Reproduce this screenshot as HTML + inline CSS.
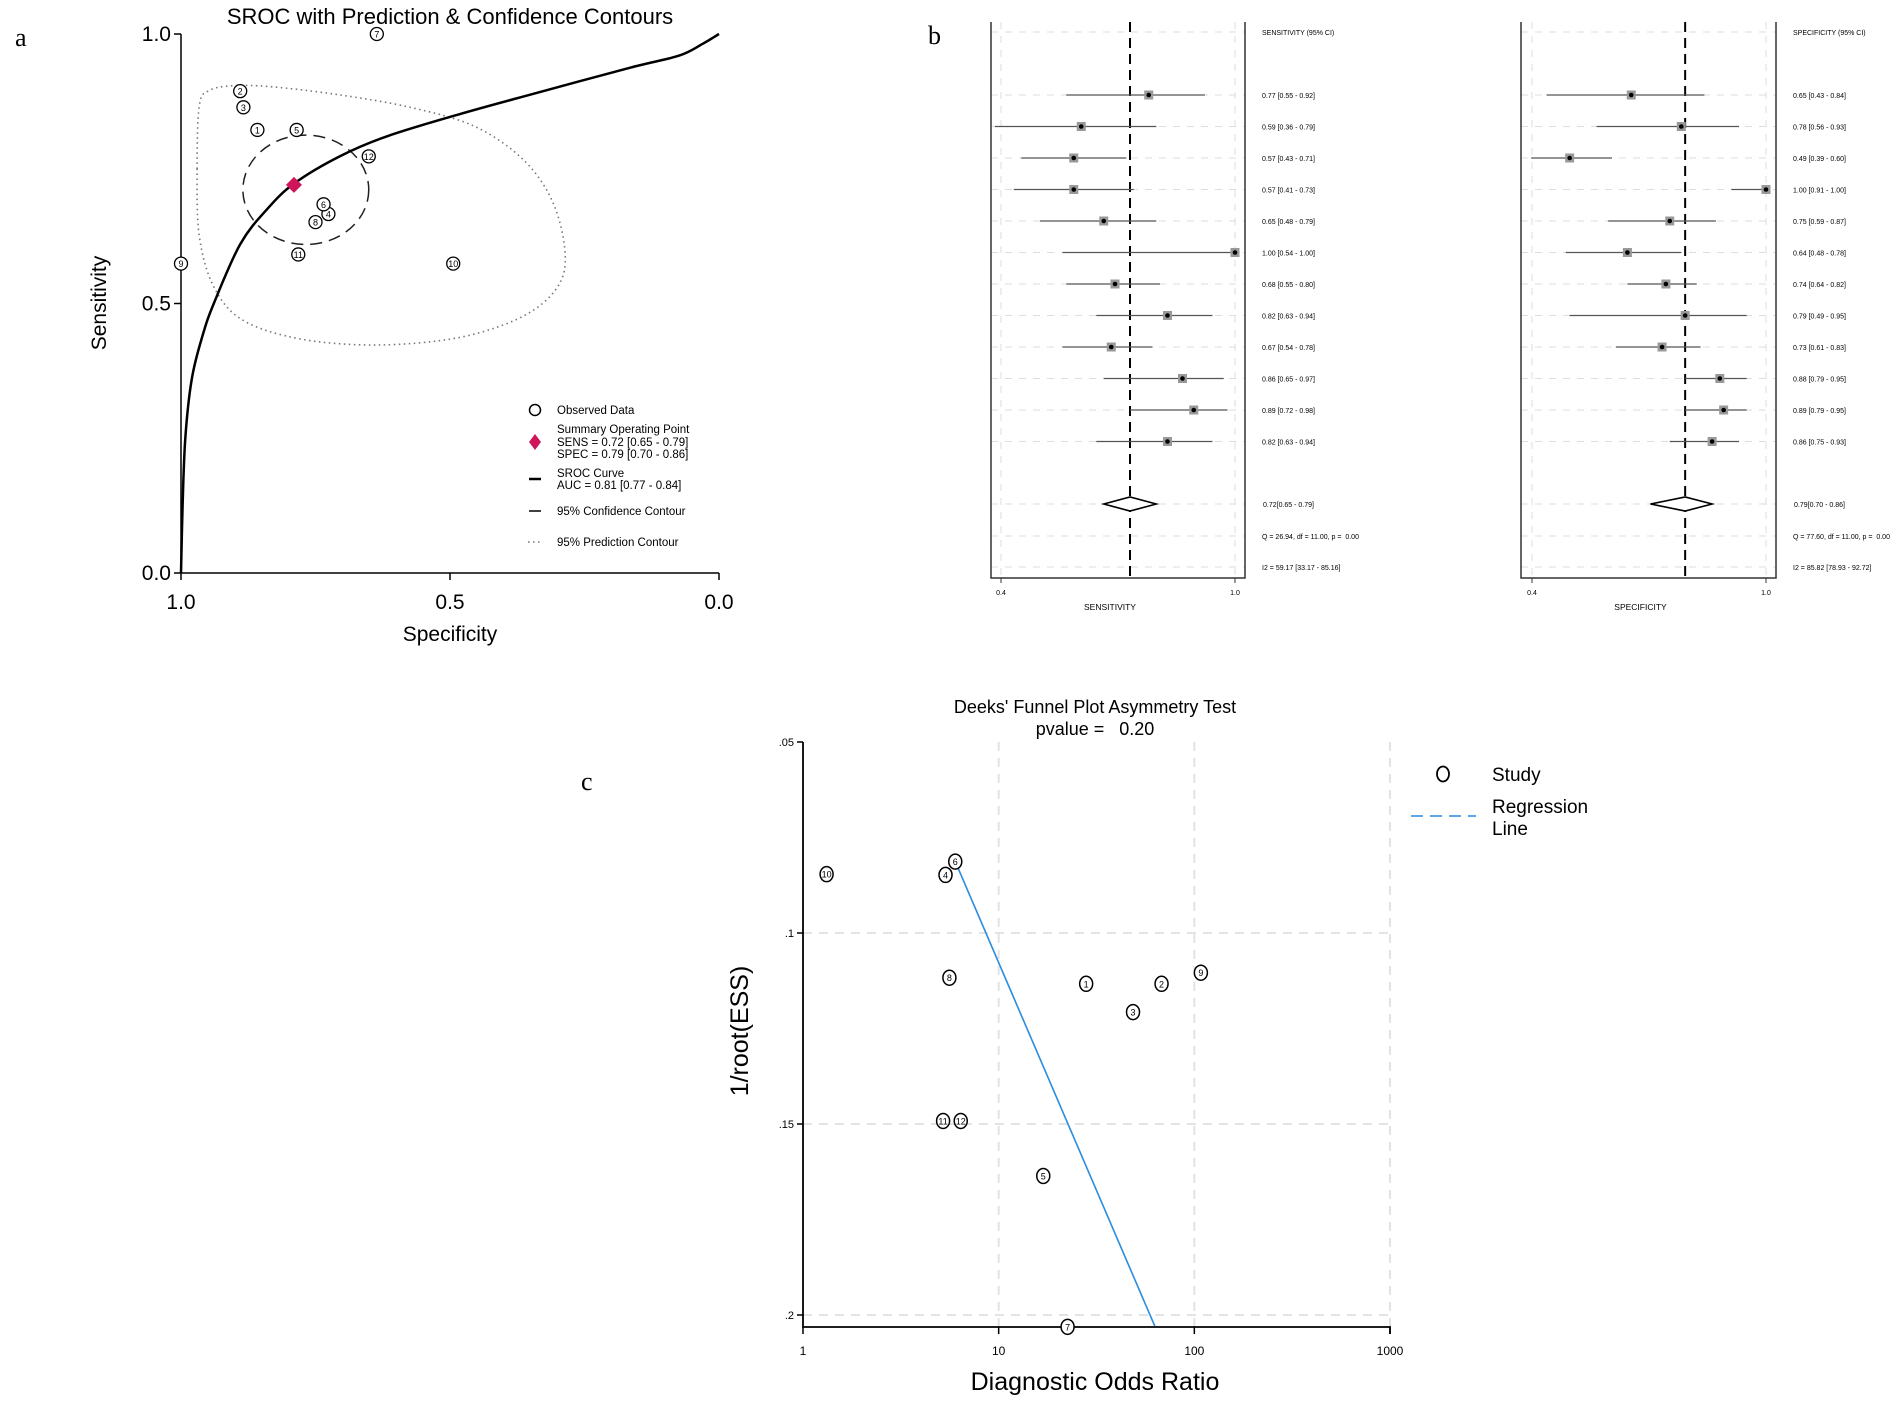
<!DOCTYPE html>
<html><head><meta charset="utf-8">
<style>
html,body{margin:0;padding:0;background:#fff;}
svg{display:block;font-family:"Liberation Sans",sans-serif;}
text{white-space:pre;}
</style></head>
<body>
<svg id="fig" width="1902" height="1403" viewBox="0 0 1902 1403" xmlns="http://www.w3.org/2000/svg">
<rect x="0" y="0" width="1902" height="1403" fill="#fff"/>
<g id="pa"></g>
<g id="pb"></g>
<g id="pc"></g>
</svg>
<script>
// ===== Panel a data =====
const sroStudyIds = ["1","2","3","4","5","6","7","8","9","10","11","12"];
const sroSpec = [0.858,0.890,0.884,0.726,0.785,0.735,0.636,0.750,1.0,0.494,0.782,0.651];
const sroSens = [0.822,0.894,0.864,0.666,0.822,0.684,1.0,0.651,0.574,0.574,0.591,0.773];
const summarySpec = 0.79;
const summarySens = 0.72;
const srocCurveSpec = [1,0.997,0.992,0.98,0.96,0.939,0.89,0.84,0.789,0.705,0.615,0.480,0.345,0.165,0.074,0.03,0];
const srocCurveSens = [0,0.125,0.25,0.36,0.44,0.50,0.61,0.675,0.723,0.773,0.811,0.852,0.889,0.9375,0.96,0.982,1];
const predSpec = [0.970,0.966,0.948,0.903,0.831,0.705,0.570,0.453,0.363,0.309,0.286,0.300,0.363,0.480,0.633,0.777,0.885,0.939,0.966];
const predSens = [0.75,0.867,0.895,0.904,0.902,0.887,0.863,0.828,0.766,0.688,0.594,0.531,0.477,0.4375,0.423,0.434,0.469,0.531,0.625];
const confCenter = [0.768,0.711];
const confRadius = [0.117,0.1015];
const aTicks = [0,0.5,1];
const aTickLabels = ["0.0","0.5","1.0"];

// ===== Panel b data =====
const sensVal = [0.77,0.59,0.57,0.57,0.65,1.00,0.68,0.82,0.67,0.86,0.89,0.82];
const sensLo  = [0.55,0.36,0.43,0.41,0.48,0.54,0.55,0.63,0.54,0.65,0.72,0.63];
const sensHi  = [0.92,0.79,0.71,0.73,0.79,1.00,0.80,0.94,0.78,0.97,0.98,0.94];
const specVal = [0.65,0.78,0.49,1.00,0.75,0.64,0.74,0.79,0.73,0.88,0.89,0.86];
const specLo  = [0.43,0.56,0.39,0.91,0.59,0.48,0.64,0.49,0.61,0.79,0.79,0.75];
const specHi  = [0.84,0.93,0.60,1.00,0.87,0.78,0.82,0.95,0.83,0.95,0.95,0.93];
const sensSummary = [0.72,0.65,0.79];
const specSummary = [0.79,0.70,0.86];
const sensStats = ["Q = 26.94, df = 11.00, p =  0.00","I2 = 59.17 [33.17 - 85.16]"];
const specStats = ["Q = 77.60, df = 11.00, p =  0.00","I2 = 85.82 [78.93 - 92.72]"];

// ===== Panel c data =====
const deeksIds = ["1","2","3","4","5","6","7","8","9","10","11","12"];
const deeksDOR = [28,68,48.6,5.35,16.9,6.0,22.5,5.6,108,1.32,5.2,6.4];
const deeksESS = [0.1133,0.1133,0.1207,0.0848,0.1636,0.0813,0.2031,0.1117,0.1104,0.0846,0.1492,0.1492];
const regDOR = [6.0,62.8];
const regESS = [0.0813,0.2029];
const cXTicks = [1,10,100,1000];
const cXTickLabels = ["1","10","100","1000"];
const cYTicks = [0.05,0.1,0.15,0.2];
const cYTickLabels = [".05",".1",".15",".2"];

const NS="http://www.w3.org/2000/svg";
function mk(parent,tag,attrs,text){const e=document.createElementNS(NS,tag);for(const k in attrs)e.setAttribute(k,attrs[k]);if(text!==undefined)e.textContent=text;parent.appendChild(e);return e;}
function smooth(pts,closed){
  const n=pts.length;let d="M"+pts[0][0].toFixed(1)+","+pts[0][1].toFixed(1);
  const cnt=closed?n:n-1;
  for(let i=0;i<cnt;i++){
    const p0=pts[closed?(i-1+n)%n:Math.max(i-1,0)],p1=pts[i],p2=pts[(i+1)%n],p3=pts[closed?(i+2)%n:Math.min(i+2,n-1)];
    const c1=[p1[0]+(p2[0]-p0[0])/6,p1[1]+(p2[1]-p0[1])/6],c2=[p2[0]-(p3[0]-p1[0])/6,p2[1]-(p3[1]-p1[1])/6];
    d+=" C"+c1[0].toFixed(1)+","+c1[1].toFixed(1)+" "+c2[0].toFixed(1)+","+c2[1].toFixed(1)+" "+p2[0].toFixed(1)+","+p2[1].toFixed(1);
  }
  return d+(closed?" Z":"");
}

// ===== Panel a =====
(function(){
const g=document.getElementById('pa');
const X0=181,X1=719,Y0=573,Y1=34;
const sx=s=>X0+(1-s)*(X1-X0), sy=v=>Y0-v*(Y0-Y1);
let t;
t=mk(g,'text',{x:15,y:46,'font-family':'Liberation Serif, serif','font-size':26});t.textContent='a';

t=mk(g,'text',{x:450,y:24,'text-anchor':'middle','font-size':22},'SROC with Prediction & Confidence Contours');

let ax=mk(g,'path',{d:`M${X0},${Y1} V${Y0} H${X1}`,stroke:'#000','stroke-width':1.5,fill:'none'});

aTicks.forEach((v,i)=>{
  mk(g,'line',{x1:X0-7,x2:X0,y1:sy(v),y2:sy(v),stroke:'#000','stroke-width':1.5});
  let l=mk(g,'text',{x:X0-10,y:sy(v)+7,'text-anchor':'end','font-size':21},aTickLabels[i]);
  
  mk(g,'line',{x1:sx(v),x2:sx(v),y1:Y0,y2:Y0+7,stroke:'#000','stroke-width':1.5});
  l=mk(g,'text',{x:sx(v),y:Y0+36,'text-anchor':'middle','font-size':21},aTickLabels[i]);
  
});
t=mk(g,'text',{x:0,y:0,transform:'translate(106,303) rotate(-90)','text-anchor':'middle','font-size':21},'Sensitivity');

t=mk(g,'text',{x:450,y:641,'text-anchor':'middle','font-size':21},'Specificity');

const pp=predSpec.map((s,i)=>[sx(s),sy(predSens[i])]);
let p=mk(g,'path',{d:smooth(pp,true),fill:'none',stroke:'#777','stroke-width':1.6,'stroke-dasharray':'1.5 3.5'});

p=mk(g,'ellipse',{cx:sx(confCenter[0]),cy:sy(confCenter[1]),rx:confRadius[0]*(X1-X0),ry:confRadius[1]*(Y0-Y1),fill:'none',stroke:'#222','stroke-width':1.5,'stroke-dasharray':'12 7'});

const cp=srocCurveSpec.map((s,i)=>[sx(s),sy(srocCurveSens[i])]);
p=mk(g,'path',{d:smooth(cp,false),fill:'none',stroke:'#000','stroke-width':2.5});

sroSpec.forEach((s,i)=>{
  const c=mk(g,'circle',{cx:sx(s),cy:sy(sroSens[i]),r:6.5,fill:'#fff',stroke:'#000','stroke-width':1.3});
  
  mk(g,'text',{x:sx(s),y:sy(sroSens[i])+3.5,'text-anchor':'middle','font-size':9},sroStudyIds[i]);
});
const dx=sx(summarySpec),dy=sy(summarySens);
p=mk(g,'path',{d:`M${dx},${dy-8} L${dx+8},${dy} L${dx},${dy+8} L${dx-8},${dy} Z`,fill:'#d0145a'});

const lg=mk(g,'g',{'font-size':11.5});

mk(lg,'circle',{cx:535,cy:410,r:5.5,fill:'none',stroke:'#000','stroke-width':1.5});
mk(lg,'text',{x:557,y:414},'Observed Data');
mk(lg,'path',{d:'M535,434 L541,442 L535,450 L529,442 Z',fill:'#d0145a'});
mk(lg,'text',{x:557,y:433},'Summary Operating Point');
mk(lg,'text',{x:557,y:446},'SENS = 0.72 [0.65 - 0.79]');
mk(lg,'text',{x:557,y:458},'SPEC = 0.79 [0.70 - 0.86]');
mk(lg,'line',{x1:529,x2:541,y1:479,y2:479,stroke:'#000','stroke-width':2.5});
mk(lg,'text',{x:557,y:477},'SROC Curve');
mk(lg,'text',{x:557,y:489},'AUC = 0.81 [0.77 - 0.84]');
mk(lg,'line',{x1:529,x2:541,y1:511,y2:511,stroke:'#000','stroke-width':1.5});
mk(lg,'text',{x:557,y:515},'95% Confidence Contour');
mk(lg,'line',{x1:528,x2:542,y1:542,y2:542,stroke:'#777','stroke-width':1.5,'stroke-dasharray':'1.5 3.5'});
mk(lg,'text',{x:557,y:546},'95% Prediction Contour');
})();

// ===== Panel b =====
(function(){
const g=document.getElementById('pb');
let t=mk(g,'text',{x:928,y:44,'font-family':'Liberation Serif, serif','font-size':26},'b');

const ROW0=95,DR=31.5,TOP=22,BOT=578;
function forest(name,L,R,sx,t04,t10,vals,lo,hi,summ,stats,head,title){
  const f=mk(g,'g',{});
  
  const rows=[32];for(let i=0;i<vals.length;i++)rows.push(ROW0+i*DR);rows.push(504,536,567);
  rows.forEach(y=>mk(f,'line',{x1:L,x2:R,y1:y,y2:y,stroke:'#ddd','stroke-width':1,'stroke-dasharray':'7 7'}));
  [t04,t10].forEach(x=>mk(f,'line',{x1:x,x2:x,y1:TOP,y2:BOT,stroke:'#ddd','stroke-width':1,'stroke-dasharray':'7 7'}));
  mk(f,'path',{d:`M${L},${TOP} V${BOT} H${R} V${TOP}`,fill:'none',stroke:'#333','stroke-width':1.5});
  [[t04,'0.4'],[t10,'1.0']].forEach(a=>{mk(f,'line',{x1:a[0],x2:a[0],y1:BOT,y2:BOT+5,stroke:'#333'});mk(f,'text',{x:a[0],y:595,'text-anchor':'middle','font-size':7},a[1]);});
  mk(f,'text',{x:(L+R)/2-8,y:610,'text-anchor':'middle','font-size':8.5},title);
  mk(f,'line',{x1:sx(summ[0]),x2:sx(summ[0]),y1:TOP,y2:BOT,stroke:'#000','stroke-width':2,'stroke-dasharray':'10 6'});
  mk(f,'text',{x:R+17,y:35,'font-size':7},head);
  vals.forEach((v,i)=>{
    const y=ROW0+i*DR;
    const ln=mk(f,'line',{x1:sx(lo[i]),x2:sx(hi[i]),y1:y,y2:y,stroke:'#555','stroke-width':1.3});
    
    const sq=mk(f,'rect',{x:sx(v)-4.5,y:y-4.5,width:9,height:9,fill:'#999'});
    
    mk(f,'circle',{cx:sx(v),cy:y,r:2.3,fill:'#000'});
    mk(f,'text',{x:R+17,y:y+3,'font-size':7},v.toFixed(2)+' ['+lo[i].toFixed(2)+' - '+hi[i].toFixed(2)+']');
  });
  const dy=504;
  const dm=mk(f,'path',{d:`M${sx(summ[1])},${dy} L${sx(summ[0])},${dy-7} L${sx(summ[2])},${dy} L${sx(summ[0])},${dy+7} Z`,fill:'#fff',stroke:'#000','stroke-width':1.6});
  
  mk(f,'text',{x:R+18,y:dy+3,'font-size':7},summ[0].toFixed(2)+'['+summ[1].toFixed(2)+' - '+summ[2].toFixed(2)+']');
  mk(f,'text',{x:R+17,y:539,'font-size':7},stats[0]);
  mk(f,'text',{x:R+17,y:570,'font-size':7},stats[1]);
}
forest('sensitivity-forest',991,1245,v=>1235-(1-v)*375,1001,1235,sensVal,sensLo,sensHi,sensSummary,sensStats,'SENSITIVITY (95% CI)','SENSITIVITY');
forest('specificity-forest',1521,1776,v=>1766-(1-v)*385,1532,1766,specVal,specLo,specHi,specSummary,specStats,'SPECIFICITY (95% CI)','SPECIFICITY');
})();

// ===== Panel c =====
(function(){
const g=document.getElementById('pc');
const XL=803,XR=1390,YT=742,YB=1315,AXY=1327;
const sx=v=>XL+Math.log10(v)/3*(XR-XL);
const sy=v=>YT+(v-0.05)/0.15*(YB-YT);
let t=mk(g,'text',{x:581,y:790,'font-family':'Liberation Serif, serif','font-size':26},'c');

t=mk(g,'text',{x:1095,y:713,'text-anchor':'middle','font-size':18},"Deeks' Funnel Plot Asymmetry Test");

mk(g,'text',{x:1095,y:735,'text-anchor':'middle','font-size':18},'pvalue =   0.20');
cXTicks.forEach((v,i)=>{
  if(i>0)mk(g,'line',{x1:sx(v),x2:sx(v),y1:YT,y2:AXY,stroke:'#e3e3e3','stroke-width':2,'stroke-dasharray':'9 7'});
  mk(g,'line',{x1:sx(v),x2:sx(v),y1:AXY,y2:AXY+7,stroke:'#000','stroke-width':1.5});
  const l=mk(g,'text',{x:sx(v),y:1355,'text-anchor':'middle','font-size':12},cXTickLabels[i]);
  
});
cYTicks.forEach((v,i)=>{
  if(i>0)mk(g,'line',{x1:XL,x2:XR,y1:sy(v),y2:sy(v),stroke:'#e3e3e3','stroke-width':2,'stroke-dasharray':'9 7'});
  mk(g,'line',{x1:XL-6,x2:XL,y1:sy(v),y2:sy(v),stroke:'#000','stroke-width':1.5});
  const l=mk(g,'text',{x:XL-9,y:sy(v)+4,'text-anchor':'end','font-size':11},cYTickLabels[i]);
  
});
const ax=mk(g,'path',{d:`M${XL},${YT} V${AXY} H${XR} V${AXY+7}`,fill:'none',stroke:'#000','stroke-width':1.8});

t=mk(g,'text',{x:0,y:0,transform:'translate(748,1031) rotate(-90)','text-anchor':'middle','font-size':25},'1/root(ESS)');

t=mk(g,'text',{x:1095,y:1390,'text-anchor':'middle','font-size':25},'Diagnostic Odds Ratio');

const rl=mk(g,'line',{x1:sx(regDOR[0]),y1:sy(regESS[0]),x2:sx(regDOR[1]),y2:sy(regESS[1]),stroke:'#2a8ce0','stroke-width':1.6});

deeksDOR.forEach((d,i)=>{
  const c=mk(g,'ellipse',{cx:sx(d),cy:sy(deeksESS[i]),rx:6.5,ry:7.5,fill:'#fff',stroke:'#000','stroke-width':1.5});
  
  mk(g,'text',{x:sx(d),y:sy(deeksESS[i])+3.5,'text-anchor':'middle','font-size':9},deeksIds[i]);
});
const lg=mk(g,'g',{'font-size':19});

mk(lg,'ellipse',{cx:1443,cy:774,rx:6,ry:7.5,fill:'none',stroke:'#000','stroke-width':1.8});
mk(lg,'text',{x:1492,y:781},'Study');
mk(lg,'line',{x1:1411,x2:1476,y1:816,y2:816,stroke:'#2a8ce0','stroke-width':1.6,'stroke-dasharray':'12 7'});
mk(lg,'text',{x:1492,y:813},'Regression');
mk(lg,'text',{x:1492,y:835},'Line');
})();
</script>
</body></html>
